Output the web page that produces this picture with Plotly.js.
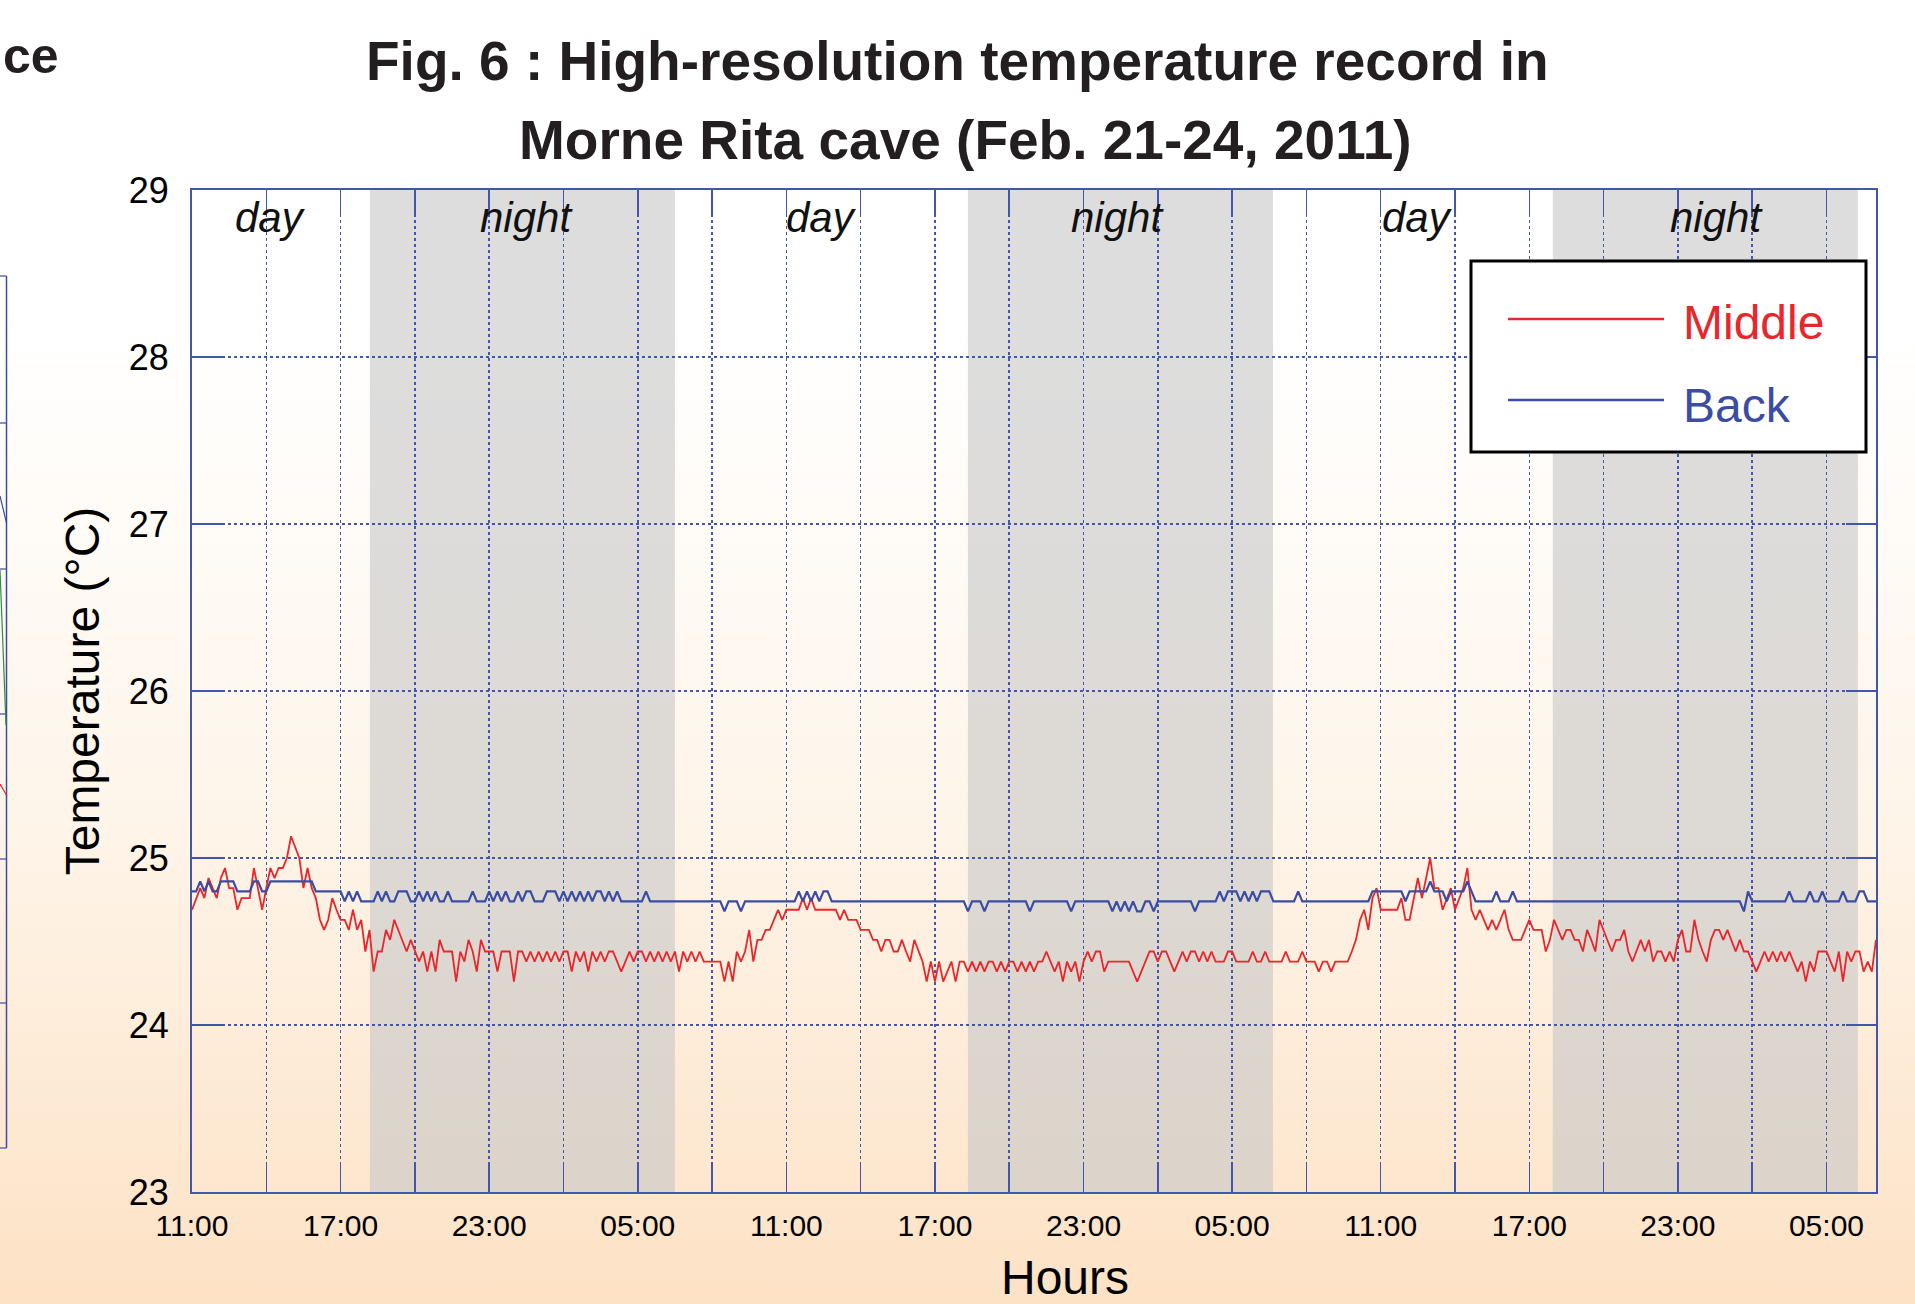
<!DOCTYPE html>
<html>
<head>
<meta charset="utf-8">
<script src="https://cdn.plot.ly/plotly-3.0.1.min.js"></script>
<style>
  html, body { margin: 0; padding: 0; overflow: hidden; }
  body {
    width: 1915px; height: 1304px;
    background: linear-gradient(to bottom, #ffffff 0%, #ffffff 25%, #fef5ea 62%, #fde2c5 100%);
  }
  #chart { width: 1915px; height: 1304px; }
</style>
</head>
<body>
<div id="chart"></div>
<script>
// ---- data ----
const titleLines = ['Fig. 6 : High-resolution temperature record in', 'Morne Rita cave (Feb. 21-24, 2011)'];
const seriesNames = ['Middle', 'Back'];
const firstReading = '2011-02-21 11:00';
const readingStepMs = 600000; // one reading every 10 minutes
const axisStart = '2011-02-21 11:00';
const axisEnd = '2011-02-24 07:00';
const nightStart = ['2011-02-21 18:11', '2011-02-22 18:20', '2011-02-23 17:57'];
const nightEnd = ['2011-02-22 06:30', '2011-02-23 06:39', '2011-02-24 06:16'];
const periodLabels = ['day', 'night', 'day', 'night', 'day', 'night'];
const xAxisTitle = 'Hours';
const yAxisTitle = 'Temperature (°C)';
const neighbourTitleEnd = 'ce';

// Middle sensor (°C)
const middle = [
24.69,24.76,24.82,24.76,24.88,24.82,24.76,24.88,24.94,24.82,24.82,24.69,
24.76,24.76,24.76,24.94,24.82,24.69,24.82,24.94,24.88,24.94,24.94,25.00,
25.13,25.07,25.00,24.82,24.94,24.82,24.76,24.63,24.57,24.63,24.76,24.69,
24.63,24.63,24.57,24.69,24.57,24.63,24.44,24.57,24.32,24.44,24.44,24.57,
24.51,24.63,24.57,24.51,24.44,24.51,24.44,24.38,24.44,24.32,24.44,24.32,
24.51,24.44,24.44,24.44,24.26,24.44,24.38,24.51,24.44,24.32,24.51,24.44,
24.44,24.44,24.32,24.44,24.44,24.44,24.26,24.44,24.44,24.38,
24.44,24.38,24.44,24.38,24.44,24.38,24.44,24.38,24.44,24.44,24.32,24.44,
24.38,24.44,24.32,24.44,24.38,24.44,24.38,24.44,24.44,24.38,24.32,24.38,
24.44,24.38,24.44,24.44,24.38,24.44,24.38,24.44,24.38,24.44,24.38,24.44,
24.32,24.44,24.38,24.44,24.38,24.44,24.38,24.38,24.38,24.38,24.38,24.26,
24.38,24.26,24.44,24.38,24.44,24.57,24.38,24.51,24.51,24.57,24.57,24.63,
24.69,24.63,24.69,24.69,24.69,24.69,24.76,24.69,24.76,24.69,24.69,24.69,
24.69,24.69,24.69,24.63,24.69,24.63,24.63,24.63,24.57,
24.57,24.57,24.51,24.51,24.44,24.51,24.51,24.44,24.44,24.51,24.44,24.38,
24.51,24.44,24.38,24.26,24.38,24.26,24.38,24.26,24.32,24.38,24.26,24.38,
24.38,24.32,24.38,24.32,24.38,24.32,24.38,24.38,24.32,24.38,24.32,24.38,
24.38,24.32,24.38,24.32,24.38,24.32,24.38,24.38,24.44,24.38,24.32,24.38,
24.26,24.38,24.32,24.38,24.26,24.38,24.44,24.38,24.44,24.44,24.32,24.38,
24.38,24.38,24.38,24.38,24.38,24.32,24.26,24.32,24.38,24.44,24.44,24.38,
24.44,24.44,24.38,24.32,24.38,24.44,24.38,24.44,24.44,24.38,
24.44,24.38,24.44,24.38,24.38,24.38,24.44,24.44,24.38,24.38,24.38,24.38,
24.44,24.38,24.38,24.44,24.38,24.38,24.38,24.38,24.44,24.38,24.38,24.38,
24.44,24.38,24.38,24.38,24.32,24.38,24.38,24.32,24.38,24.38,24.38,24.38,
24.44,24.51,24.63,24.69,24.57,24.76,24.82,24.69,24.69,24.69,24.69,24.69,
24.76,24.63,24.63,24.76,24.88,24.76,24.88,25.00,24.82,24.82,24.69,24.76,
24.82,24.69,24.76,24.82,24.94,24.69,24.63,24.69,24.63,24.57,24.63,24.57,
24.63,24.69,24.57,24.51,24.51,24.51,24.57,24.63,24.57,24.57,
24.57,24.44,24.51,24.63,24.57,24.51,24.57,24.57,24.51,24.51,24.44,24.57,
24.51,24.44,24.63,24.57,24.51,24.44,24.51,24.51,24.57,24.44,24.38,24.44,
24.51,24.44,24.51,24.38,24.44,24.44,24.38,24.44,24.38,24.51,24.57,24.44,
24.44,24.63,24.51,24.44,24.38,24.51,24.57,24.57,24.51,24.57,24.51,24.44,
24.51,24.44,24.44,24.38,24.32,24.38,24.44,24.38,24.44,24.38,24.44,24.38,
24.44,24.38,24.32,24.38,24.26,24.38,24.32,24.44,24.44,24.44,24.38,24.32,
24.44,24.26,24.44,24.38,24.44,24.44,24.32,24.38,24.32,24.51
];

// Back sensor (°C)
const back = [
24.80,24.80,24.86,24.80,24.86,24.80,24.80,24.86,24.86,24.86,24.86,24.80,
24.80,24.80,24.80,24.86,24.86,24.80,24.80,24.86,24.86,24.86,24.86,24.86,
24.86,24.86,24.86,24.86,24.86,24.86,24.80,24.80,24.80,24.80,24.80,24.80,
24.80,24.74,24.80,24.74,24.80,24.74,24.74,24.74,24.74,24.80,24.74,24.80,
24.74,24.74,24.80,24.80,24.80,24.74,24.74,24.80,24.74,24.80,24.74,24.80,
24.74,24.74,24.80,24.74,24.74,24.74,24.74,24.74,24.80,24.74,24.74,24.74,
24.80,24.74,24.80,24.74,24.80,24.74,24.74,24.80,24.74,24.80,
24.80,24.74,24.74,24.74,24.80,24.80,24.80,24.74,24.80,24.74,24.80,24.74,
24.80,24.74,24.80,24.74,24.80,24.80,24.74,24.80,24.74,24.80,24.74,24.74,
24.74,24.74,24.74,24.74,24.80,24.74,24.74,24.74,24.74,24.74,24.74,24.74,
24.74,24.74,24.74,24.74,24.74,24.74,24.74,24.74,24.74,24.74,24.74,24.68,
24.74,24.74,24.74,24.68,24.74,24.74,24.74,24.74,24.74,24.74,24.74,24.74,
24.74,24.74,24.74,24.74,24.74,24.80,24.74,24.80,24.74,24.80,24.74,24.80,
24.80,24.74,24.74,24.74,24.74,24.74,24.74,24.74,24.74,
24.74,24.74,24.74,24.74,24.74,24.74,24.74,24.74,24.74,24.74,24.74,24.74,
24.74,24.74,24.74,24.74,24.74,24.74,24.74,24.74,24.74,24.74,24.74,24.74,
24.74,24.68,24.74,24.74,24.74,24.68,24.74,24.74,24.74,24.74,24.74,24.74,
24.74,24.74,24.74,24.74,24.68,24.74,24.74,24.74,24.74,24.74,24.74,24.74,
24.74,24.74,24.68,24.74,24.74,24.74,24.74,24.74,24.74,24.74,24.74,24.74,
24.68,24.74,24.68,24.74,24.68,24.74,24.68,24.68,24.74,24.74,24.68,24.74,
24.74,24.74,24.74,24.74,24.74,24.74,24.74,24.74,24.68,24.74,
24.74,24.74,24.74,24.74,24.80,24.74,24.80,24.80,24.80,24.74,24.80,24.74,
24.80,24.74,24.80,24.80,24.80,24.74,24.74,24.74,24.74,24.74,24.74,24.80,
24.74,24.74,24.74,24.74,24.74,24.74,24.74,24.74,24.74,24.74,24.74,24.74,
24.74,24.74,24.74,24.74,24.74,24.80,24.80,24.80,24.80,24.80,24.80,24.80,
24.80,24.74,24.80,24.80,24.80,24.80,24.80,24.86,24.80,24.80,24.80,24.74,
24.80,24.80,24.80,24.80,24.86,24.80,24.74,24.74,24.74,24.74,24.74,24.80,
24.74,24.74,24.74,24.80,24.74,24.74,24.74,24.74,24.74,24.74,
24.74,24.74,24.74,24.74,24.74,24.74,24.74,24.74,24.74,24.74,24.74,24.74,
24.74,24.74,24.74,24.74,24.74,24.74,24.74,24.74,24.74,24.74,24.74,24.74,
24.74,24.74,24.74,24.74,24.74,24.74,24.74,24.74,24.74,24.74,24.74,24.74,
24.74,24.74,24.74,24.74,24.74,24.74,24.74,24.74,24.74,24.74,24.74,24.74,
24.74,24.68,24.80,24.74,24.74,24.74,24.74,24.74,24.74,24.74,24.74,24.74,
24.80,24.74,24.74,24.74,24.74,24.80,24.74,24.74,24.80,24.74,24.74,24.74,
24.74,24.80,24.74,24.74,24.74,24.80,24.80,24.74,24.74,24.74
];

// ---- styles ----
const RED = '#e8262b';
const BLUE = '#3a4ca3';
const GRID = '#4256ad';
const FONT = '"Liberation Sans", Arial, Helvetica, sans-serif';
const W = 1915, H = 1304;
const M = {l: 192, r: 39, t: 190, b: 112};
const PW = W - M.l - M.r, PH = H - M.t - M.b;
// pixel -> paper helpers for page decorations
const px = x => (x - M.l) / PW;
const py = y => (H - M.b - y) / PH;

const traces = [
  {type: 'scatter', mode: 'lines', name: seriesNames[0], x0: firstReading, dx: readingStepMs,
   y: middle, line: {color: RED, width: 1.8}, hoverinfo: 'skip'},
  {type: 'scatter', mode: 'lines', name: seriesNames[1], x0: firstReading, dx: readingStepMs,
   y: back, line: {color: BLUE, width: 2.2}, hoverinfo: 'skip'}
];

const shapes = [];
for (let i = 0; i < nightStart.length; i++) {
  shapes.push({type: 'rect', xref: 'x', yref: 'paper', x0: nightStart[i], x1: nightEnd[i], y0: 0, y1: 1,
    fillcolor: 'rgba(199,199,199,0.61)', line: {width: 0}, layer: 'below'});
}
// custom legend box
shapes.push({type: 'rect', xref: 'paper', yref: 'paper', x0: px(1471), x1: px(1866), y0: py(452), y1: py(261),
  fillcolor: '#ffffff', line: {color: '#000000', width: 3}, layer: 'above'});
shapes.push({type: 'line', xref: 'paper', yref: 'paper', x0: px(1508), x1: px(1664), y0: py(319), y1: py(319),
  line: {color: RED, width: 2.5}, layer: 'above'});
shapes.push({type: 'line', xref: 'paper', yref: 'paper', x0: px(1508), x1: px(1664), y0: py(400), y1: py(400),
  line: {color: BLUE, width: 2.5}, layer: 'above'});
// cropped neighbouring figure at the left page edge
shapes.push({type: 'line', xref: 'paper', yref: 'paper', x0: px(6.5), x1: px(6.5), y0: py(276), y1: py(1148),
  line: {color: BLUE, width: 1.5}});
[276, 423, 569, 714, 859, 1003, 1148].forEach(y => {
  shapes.push({type: 'line', xref: 'paper', yref: 'paper', x0: px(0), x1: px(6.5), y0: py(y), y1: py(y),
    line: {color: BLUE, width: 1.2}});
});
shapes.push({type: 'line', xref: 'paper', yref: 'paper', x0: px(0), x1: px(6.5), y0: py(496), y1: py(523),
  line: {color: BLUE, width: 1.2}});
shapes.push({type: 'line', xref: 'paper', yref: 'paper', x0: px(0), x1: px(6), y0: py(570), y1: py(725),
  line: {color: '#2f8a4e', width: 1.2}});
shapes.push({type: 'line', xref: 'paper', yref: 'paper', x0: px(0), x1: px(7), y0: py(784), y1: py(796),
  line: {color: RED, width: 1.2}});

const labelX = [270, 526, 821, 1117, 1417, 1716];
const annotations = [];
periodLabels.forEach((t, i) => {
  annotations.push({text: t, xref: 'paper', yref: 'paper', x: px(labelX[i]), y: py(217),
    xanchor: 'center', yanchor: 'middle', showarrow: false,
    font: {family: FONT, size: 42, color: '#111111', style: 'italic'}});
});
annotations.push({text: titleLines[0], xref: 'paper', yref: 'paper', x: px(957), y: py(61),
  xanchor: 'center', yanchor: 'middle', showarrow: false,
  font: {family: FONT, size: 55, color: '#231f20', weight: 'bold'}});
annotations.push({text: titleLines[1], xref: 'paper', yref: 'paper', x: px(965), y: py(140),
  xanchor: 'center', yanchor: 'middle', showarrow: false,
  font: {family: FONT, size: 55, color: '#231f20', weight: 'bold'}});
annotations.push({text: neighbourTitleEnd, xref: 'paper', yref: 'paper', x: px(1), y: py(56),
  xanchor: 'left', yanchor: 'middle', showarrow: false,
  font: {family: FONT, size: 50, color: '#231f20', weight: 'bold'}});
annotations.push({text: seriesNames[0], xref: 'paper', yref: 'paper', x: px(1681), y: py(322),
  xanchor: 'left', yanchor: 'middle', showarrow: false,
  font: {family: FONT, size: 48, color: RED}});
annotations.push({text: seriesNames[1], xref: 'paper', yref: 'paper', x: px(1681), y: py(405),
  xanchor: 'left', yanchor: 'middle', showarrow: false,
  font: {family: FONT, size: 48, color: BLUE}});
annotations.push({text: xAxisTitle, xref: 'paper', yref: 'paper', x: px(1065), y: py(1277),
  xanchor: 'center', yanchor: 'middle', showarrow: false,
  font: {family: FONT, size: 48, color: '#000000'}});

const layout = {
  width: W, height: H,
  margin: M,
  paper_bgcolor: 'rgba(0,0,0,0)',
  plot_bgcolor: 'rgba(0,0,0,0)',
  showlegend: false,
  font: {family: FONT, color: '#000000'},
  xaxis: {
    type: 'date',
    range: [axisStart, axisEnd],
    tick0: axisStart, dtick: 6 * 3600000, tickformat: '%H:%M',
    tickfont: {family: FONT, size: 30, color: '#000000'},
    ticks: 'inside', ticklen: 27, tickwidth: 1.5, tickcolor: GRID,
    ticklabelstandoff: 6,
    showgrid: true, gridcolor: GRID, gridwidth: 1.5, griddash: 'dot',
    minor: {tick0: axisStart, dtick: 3 * 3600000, showgrid: true, gridcolor: GRID, gridwidth: 1.5, griddash: 'dot',
            ticks: 'inside', ticklen: 27, tickwidth: 1.5, tickcolor: GRID},
    showline: true, linecolor: GRID, linewidth: 2, mirror: 'ticks',
    zeroline: false
  },
  yaxis: {
    range: [23, 29], dtick: 1, tick0: 23,
    tickfont: {family: FONT, size: 36, color: '#000000'},
    ticks: 'inside', ticklen: 30, tickwidth: 1.5, tickcolor: GRID,
    ticklabelstandoff: 14,
    showgrid: true, gridcolor: GRID, gridwidth: 1.5, griddash: 'dot',
    showline: true, linecolor: GRID, linewidth: 2, mirror: 'ticks',
    zeroline: false,
    title: {text: yAxisTitle, font: {family: FONT, size: 48, color: '#000000'}, standoff: 14}
  },
  shapes: shapes,
  annotations: annotations
};

Plotly.newPlot('chart', traces, layout, {staticPlot: true, displayModeBar: false});
</script>
</body>
</html>
